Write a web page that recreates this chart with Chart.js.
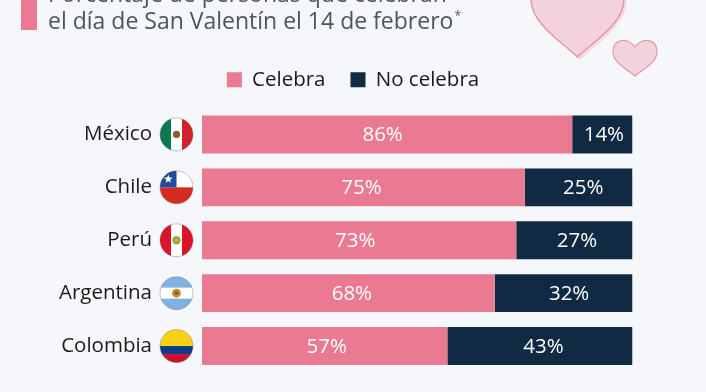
<!DOCTYPE html>
<html>
<head>
<meta charset="utf-8">
<style>
  html, body { margin: 0; padding: 0; background: #f5f7fa; overflow: hidden; }
  canvas { display: block; }
</style>
<script src="https://cdn.jsdelivr.net/npm/chart.js@4"></script>
</head>
<body>
<canvas id="chart" width="706" height="392"></canvas>
<script>
const countries = ["México", "Chile", "Perú", "Argentina", "Colombia"];
const celebra = [86, 75, 73, 68, 57];
const noCelebra = [14, 25, 27, 32, 43];
const titleLines = ["Porcentaje de personas que celebran", "el día de San Valentín el 14 de febrero"];
const PINK = "#e97a92";
const NAVY = "#102a43";
const FONT = '"Open Sans", sans-serif';

// the value labels in the original sit a few px off the bar centres
const labelNudge = [
  [-4.5, -2, -4, 3.5, 2],
  [1.5, 4.5, 2.5, 5.5, 3.5],
];

// vertical stripes, horizontal stripes
function stripesV(ctx, x, y, r, colors) {
  const w = (r * 2) / colors.length;
  colors.forEach((c, i) => {
    ctx.fillStyle = c;
    ctx.fillRect(x - r + i * w, y - r, w + 0.5, r * 2);
  });
}

function stripesH(ctx, x, y, r, colors, shares) {
  let top = y - r;
  colors.forEach((c, i) => {
    const h = r * 2 * shares[i];
    ctx.fillStyle = c;
    ctx.fillRect(x - r, top, r * 2, h + 0.5);
    top += h;
  });
}

function dot(ctx, x, y, r, color) {
  ctx.fillStyle = color;
  ctx.beginPath();
  ctx.arc(x, y, r, 0, Math.PI * 2);
  ctx.fill();
}

function star(ctx, x, y, r) {
  ctx.fillStyle = "#fff";
  ctx.beginPath();
  for (let i = 0; i < 10; i++) {
    const a = -Math.PI / 2 + (i * Math.PI) / 5;
    const d = i % 2 ? r * 0.4 : r;
    ctx.lineTo(x + Math.cos(a) * d, y + Math.sin(a) * d);
  }
  ctx.fill();
}

const flagDrawers = {
  "México": (ctx, x, y, r) => {
    stripesV(ctx, x, y, r, ["#0b7a50", "#ffffff", "#d3202f"]);
    dot(ctx, x, y, 3.6, "#8a5a2b");
  },
  "Chile": (ctx, x, y, r) => {
    stripesH(ctx, x, y, r, ["#ffffff", "#d62b20"], [0.5, 0.5]);
    ctx.fillStyle = "#1c4d9e";
    ctx.fillRect(x - r, y - r, r, r);
    star(ctx, x - r / 2, y - r / 2, 4.6);
  },
  "Perú": (ctx, x, y, r) => {
    stripesV(ctx, x, y, r, ["#d9142b", "#ffffff", "#d9142b"]);
    dot(ctx, x, y, 4.2, "#9aa83c");
    dot(ctx, x, y, 2, "#d9a62e");
  },
  "Argentina": (ctx, x, y, r) => {
    stripesH(ctx, x, y, r, ["#7fb2e0", "#ffffff", "#7fb2e0"], [1 / 3, 1 / 3, 1 / 3]);
    dot(ctx, x, y, 4.4, "#c98a2b");
    dot(ctx, x, y, 1.8, "#8a5a20");
  },
  "Colombia": (ctx, x, y, r) => {
    stripesH(ctx, x, y, r, ["#fbd116", "#123a8c", "#ce1126"], [0.5, 0.25, 0.25]);
  },
};

function heart(ctx, cx, top, w, h) {
  const hw = w / 2;
  ctx.beginPath();
  ctx.moveTo(cx, top + h * 0.2);
  ctx.bezierCurveTo(cx - hw * 0.3, top - h * 0.08, cx - hw, top - h * 0.06, cx - hw, top + h * 0.34);
  ctx.bezierCurveTo(cx - hw, top + h * 0.62, cx - hw * 0.35, top + h * 0.82, cx, top + h);
  ctx.bezierCurveTo(cx + hw * 0.35, top + h * 0.82, cx + hw, top + h * 0.62, cx + hw, top + h * 0.34);
  ctx.bezierCurveTo(cx + hw, top - h * 0.06, cx + hw * 0.3, top - h * 0.08, cx, top + h * 0.2);
  ctx.closePath();
}

const decorations = {
  id: "decorations",
  // legend is centred on the whole page and sits higher than its layout box
  afterLayout(chart) {
    chart.legend.right = chart.width;
    chart.legend.top -= 8;
  },
  beforeDraw(chart) {
    const ctx = chart.ctx;
    ctx.save();
    ctx.fillStyle = "#f5f7fa";
    ctx.fillRect(0, 0, chart.width, chart.height);

    // title block
    ctx.fillStyle = PINK;
    ctx.fillRect(21, 0, 16, 30);
    ctx.fillStyle = "#4b5759";
    ctx.font = "23px " + FONT;
    ctx.textBaseline = "alphabetic";
    ctx.fillText(titleLines[0], 48, 2);
    ctx.fillText(titleLines[1], 48, 29);
    const w = ctx.measureText(titleLines[1]).width;
    ctx.font = "12px " + FONT;
    ctx.fillText("*", 48 + w + 1, 20);

    // hearts
    ctx.fillStyle = "#f3dce3";
    heart(ctx, 580, -29, 93, 89);
    ctx.fill();
    ctx.fillStyle = "#f3d2dc";
    ctx.strokeStyle = "#e794a8";
    ctx.lineWidth = 1.5;
    heart(ctx, 577.5, -31, 93, 88);
    ctx.fill();
    ctx.stroke();
    ctx.lineWidth = 1.2;
    heart(ctx, 635, 40, 44, 36);
    ctx.fill();
    ctx.stroke();
    ctx.restore();
  },
  afterDraw(chart) {
    const ctx = chart.ctx;
    const yScale = chart.scales.y;
    const r = 16.5;
    const x = 176.5;
    countries.forEach((name, i) => {
      const y = yScale.getPixelForValue(i);
      ctx.save();
      ctx.beginPath();
      ctx.arc(x, y, r, 0, Math.PI * 2);
      ctx.clip();
      flagDrawers[name](ctx, x, y, r);
      ctx.restore();
      ctx.save();
      ctx.strokeStyle = "rgba(90,90,90,0.35)";
      ctx.lineWidth = 1;
      ctx.beginPath();
      ctx.arc(x, y, r, 0, Math.PI * 2);
      ctx.stroke();
      ctx.restore();
    });
  },
};

const barLabels = {
  id: "barLabels",
  afterDatasetsDraw(chart) {
    const ctx = chart.ctx;
    ctx.save();
    ctx.fillStyle = "#fff";
    ctx.font = "20.5px " + FONT;
    ctx.textAlign = "center";
    ctx.textBaseline = "middle";
    chart.data.datasets.forEach((ds, d) => {
      chart.getDatasetMeta(d).data.forEach((bar, i) => {
        const c = bar.getCenterPoint();
        ctx.fillText(ds.data[i] + "%", c.x + labelNudge[d][i], c.y + 1);
      });
    });
    ctx.restore();
  },
};

new Chart(document.getElementById("chart"), {
  type: "bar",
  data: {
    labels: countries,
    datasets: [
      { label: "Celebra", data: celebra, backgroundColor: PINK },
      { label: "No celebra", data: noCelebra, backgroundColor: NAVY },
    ],
  },
  options: {
    indexAxis: "y",
    responsive: false,
    animation: false,
    categoryPercentage: 38 / 53,
    barPercentage: 1,
    layout: { padding: { top: 52.5, right: 73.5, bottom: 19.5, left: 0 } },
    scales: {
      x: { stacked: true, min: 0, max: 100, display: false },
      y: {
        stacked: true,
        grid: { display: false },
        border: { display: false },
        ticks: { color: "#1a1a1a", font: { family: FONT, size: 20.5 }, padding: 42 },
        afterFit(scale) {
          scale.width = 202;
          scale.paddingTop = 0;
          scale.paddingBottom = 0;
        },
      },
    },
    plugins: {
      tooltip: { enabled: false },
      legend: {
        position: "top",
        labels: {
          boxWidth: 15,
          boxHeight: 15,
          color: "#1a1a1a",
          padding: 25,
          font: { family: FONT, size: 20.5 },
        },
      },
    },
  },
  plugins: [decorations, barLabels],
});
</script>
</body>
</html>
